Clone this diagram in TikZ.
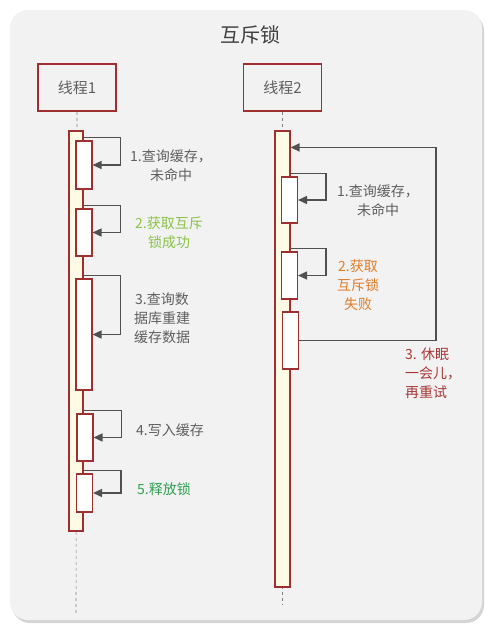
\documentclass[tikz,border=0pt]{standalone}
\usepackage{fontspec}
\setmainfont{Noto Sans CJK SC}
\usetikzlibrary{arrows.meta, positioning, calc}
\definecolor{panelgray}{RGB}{242,242,242}
\definecolor{shadowgray}{RGB}{212,212,212}
\definecolor{lockred}{RGB}{160,48,48}
\definecolor{barfill}{RGB}{255,251,228}
\definecolor{loopgray}{RGB}{80,80,80}
\definecolor{textgray}{RGB}{95,95,95}
\definecolor{okgreen}{RGB}{139,195,74}
\definecolor{relgreen}{RGB}{46,160,80}
\definecolor{failorange}{RGB}{225,125,40}
\definecolor{retryred}{RGB}{168,55,55}
\tikzset{
  thread/.style={rectangle, draw=lockred, fill=panelgray,
    minimum width=78pt, minimum height=47pt, line width=1.6pt,
    font=\fontsize{15}{18}\selectfont, text=textgray},
  lifebar/.style={rectangle, draw=lockred, fill=barfill,
    minimum width=14pt, inner sep=0pt, line width=1.1pt},
  actbox/.style={rectangle, draw=lockred, fill=white,
    minimum width=16pt, inner sep=0pt, line width=1.1pt},
  lifeline/.style={dashed, color=gray, line width=0.6pt},
  selfloop/.style={-{Triangle[length=9pt,width=8pt]}, line width=1.5pt, color=loopgray},
  steplabel/.style={font=\fontsize{14}{19}\selectfont, align=center,
    text=textgray, inner sep=0pt}
}

\begin{document}
\begin{tikzpicture}[x=1pt, y=-1pt]
  \useasboundingbox (0,0) rectangle (499,635);
  % panel
  \fill[shadowgray, rounded corners=18pt] (12,13) rectangle (484,623);
  \fill[panelgray, rounded corners=18pt] (10,10) rectangle (482,620);
  \node[font=\fontsize{20}{24}\selectfont, text=black!75] (title) at (250,35) {互斥锁};

  % threads and lifelines
  \node[thread] (t1) at (77,87.5) {线程1};
  \node[thread] (t2) at (282.5,87.5) {线程2};
  \coordinate (end1) at (76,615);
  \coordinate (end2) at (282.5,605);
  \draw[lifeline] (t1.south) -- (end1);
  \draw[lifeline] (t2.south) -- (end2);
  \node[lifebar, minimum height=400pt] (bar1) at (76,331) {};
  \node[lifebar, minimum height=456pt, minimum width=15pt] (bar2) at (282.5,359) {};

  % thread 1 activations
  \node[actbox, minimum height=48pt] (a1) at (84,165) {};
  \node[actbox, minimum height=47pt] (a2) at (84,232.5) {};
  \node[actbox, minimum height=111pt] (a3) at (84,334.5) {};
  \node[actbox, minimum height=47pt] (a4) at (85,437.5) {};
  \node[actbox, minimum height=38pt] (a5) at (84.5,493) {};

  % thread 2 activations
  \node[actbox, minimum height=46pt] (b1) at (289.5,200) {};
  \node[actbox, minimum height=47pt] (b2) at (289.5,275.5) {};
  \node[actbox, minimum height=57pt] (b3) at (290.5,340.5) {};

  % self calls
  \foreach \act/\bar in {a1/bar1, a2/bar1, a3/bar1, a4/bar1, a5/bar1, b1/bar2, b2/bar2}
    \draw[selfloop] ([yshift=3pt]\act.north -| \bar.east) -| ([xshift=28pt]\act.east) -- (\act.east);

  % retry
  \coordinate (retry) at ([yshift=-17pt]bar2.north east);
  \draw[selfloop] (b3.east) -- ++(137,0) |- (retry);

  % labels
  \node[steplabel] (l11) at (171,166) {1.查询缓存，\\未命中};
  \node[steplabel, text=okgreen] (l12) at (169,233) {2.获取互斥\\锁成功};
  \node[steplabel] (l13) at (162,318) {3.查询数\\据库重建\\缓存数据};
  \node[steplabel] (l14) at (170,430) {4.写入缓存};
  \node[steplabel, text=relgreen] (l15) at (164,489) {5.释放锁};
  \node[steplabel] (l21) at (378,201) {1.查询缓存，\\未命中};
  \node[steplabel, text=failorange] (l22) at (358,285) {2.获取\\互斥锁\\失败};
  \node[steplabel, text=retryred, align=left, anchor=west] (l23) at (405,373) {3. 休眠\\一会儿，\\再重试};
\end{tikzpicture}
\end{document}
